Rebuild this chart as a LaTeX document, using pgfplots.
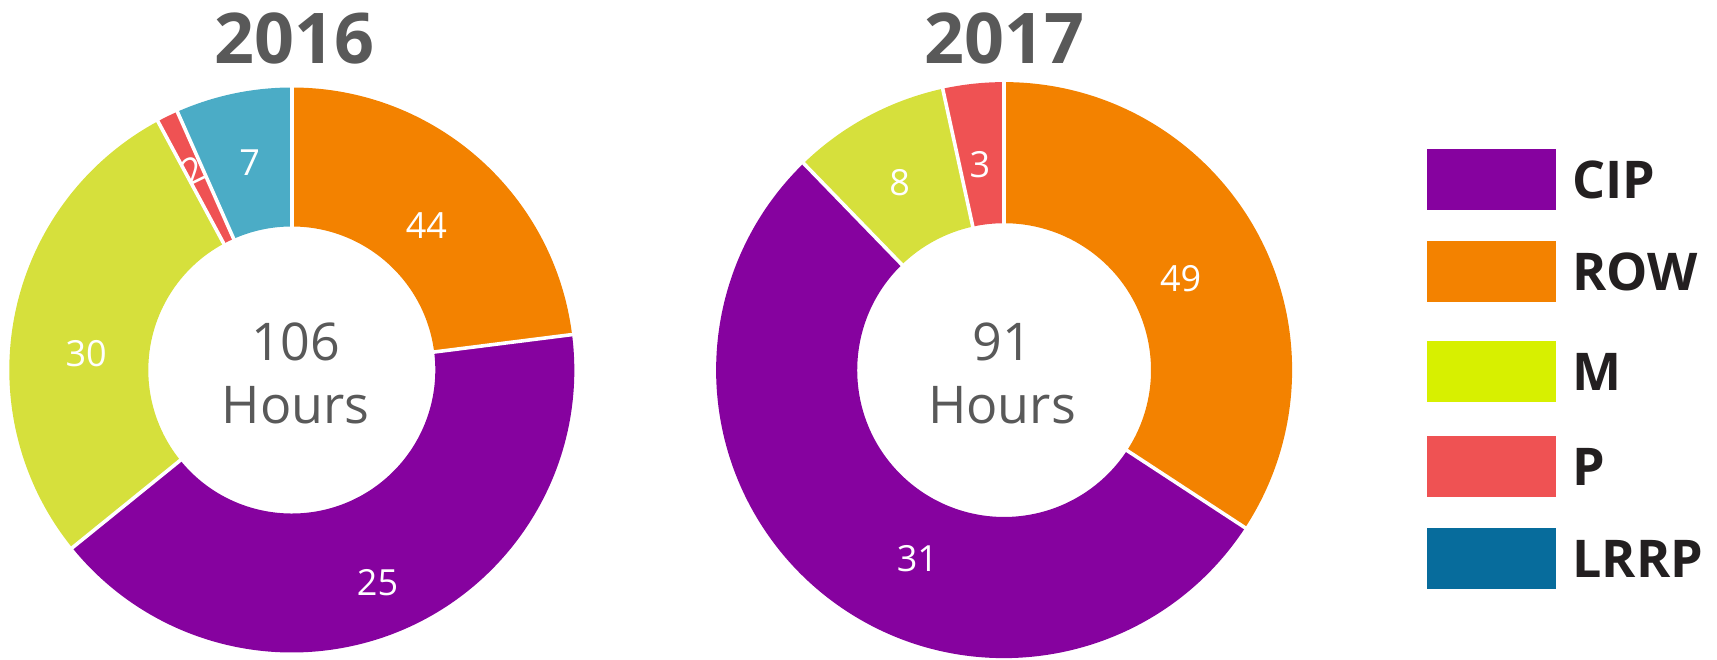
\documentclass[border=0pt]{standalone}
\usepackage{pgfplots}
\pgfplotsset{compat=1.18}
\usepackage{pgfplotstable}
\usepackage{fontspec}
\setmainfont{Open Sans}
\definecolor{cip}{HTML}{86029F}
\definecolor{row}{HTML}{F38200}
\definecolor{mslice}{HTML}{D6E03C}
\definecolor{mleg}{HTML}{D7F000}
\definecolor{pcol}{HTML}{EF5253}
\definecolor{lrrpslice}{HTML}{4BACC6}
\definecolor{lrrpleg}{HTML}{076C9C}
\definecolor{txtgray}{HTML}{595959}
\definecolor{legtxt}{HTML}{231F20}

% slice sizes as drawn (hours), label text and label placement
\pgfplotstableread{
name value color label langle lrad lrot
ROW  24.84 row       44 47.1   0.70 0
CIP  44.46 cip       25 -68    0.81 0
M    30.21 mslice    30 175.5  0.73 0
P    1.32  pcol      2  116.3  0.79 26
LRRP 7.17  lrrpslice 7  101.5  0.75 0
}\dataA
\pgfplotstableread{
name value color label langle lrad lrot
ROW  31.14 row    49 27.3   0.69 0
CIP  48.71 cip    31 -114.7 0.72 0
M    8.04  mslice 8  119.1  0.745 0
P    3.11  pcol   3  96.7   0.72 0
}\dataB

\newcommand\donut[2]{%
  \pgfplotstablegetrowsof{#1}%
  \pgfmathtruncatemacro\nrows{\pgfplotsretval-1}%
  \def\total{0}%
  \pgfplotsforeachungrouped \i in {0,...,\nrows}{%
    \pgfplotstablegetelem{\i}{value}\of{#1}%
    \pgfmathsetmacro\total{\total+\pgfplotsretval}%
  }%
  \def\angA{90}%
  \pgfplotsforeachungrouped \i in {0,...,\nrows}{%
    \pgfplotstablegetelem{\i}{value}\of{#1}\let\val\pgfplotsretval
    \pgfplotstablegetelem{\i}{color}\of{#1}\let\col\pgfplotsretval
    \pgfmathsetmacro\angB{\angA-(\val/\total)*360}%
    \edef\tmp{\noexpand\fill[\col]
      (axis cs:{cos(\angA)},{sin(\angA)})
      arc[start angle=\angA, end angle=\angB, radius=1]
      -- (axis cs:{#2*cos(\angB)},{#2*sin(\angB)})
      arc[start angle=\angB, end angle=\angA, radius=#2] -- cycle;}%
    \tmp
    \let\angA\angB
  }%
  \def\angA{90}%
  \pgfplotsforeachungrouped \i in {0,...,\nrows}{%
    \pgfplotstablegetelem{\i}{value}\of{#1}\let\val\pgfplotsretval
    \pgfmathsetmacro\angB{\angA-(\val/\total)*360}%
    \edef\tmp{\noexpand\draw[white, line width=1.8pt]
      (axis cs:{(#2-0.02)*cos(\angA)},{(#2-0.02)*sin(\angA)}) --
      (axis cs:{1.02*cos(\angA)},{1.02*sin(\angA)});}%
    \tmp
    \let\angA\angB
  }%
  \pgfplotsforeachungrouped \i in {0,...,\nrows}{%
    \pgfplotstablegetelem{\i}{label}\of{#1}\let\lab\pgfplotsretval
    \pgfplotstablegetelem{\i}{langle}\of{#1}\let\la\pgfplotsretval
    \pgfplotstablegetelem{\i}{lrad}\of{#1}\let\lr\pgfplotsretval
    \pgfplotstablegetelem{\i}{lrot}\of{#1}\let\lro\pgfplotsretval
    \edef\tmp{\noexpand\node[text=white, inner sep=0pt, font=\noexpand\fontsize{18}{20}\noexpand\selectfont, rotate=\lro]
      at (axis cs:{\lr*cos(\la)},{\lr*sin(\la)}) {\lab};}%
    \tmp
  }%
}

\begin{document}
\begin{tikzpicture}
\path[use as bounding box] (0,0) rectangle (858.5pt,329.5pt);
\clip (0,0) rectangle (858.5pt,329.5pt);

% 2016
\begin{axis}[at={(145.9pt,144.5pt)}, anchor=center, width=282.5pt, height=282.5pt,
  scale only axis, xmin=-1, xmax=1, ymin=-1, ymax=1, hide axis, clip=false]
  \donut{\dataA}{0.508}
\end{axis}

% 2017
\begin{axis}[at={(502.05pt,144.45pt)}, anchor=center, width=288pt, height=288pt,
  scale only axis, xmin=-1, xmax=1, ymin=-1, ymax=1, hide axis, clip=false]
  \donut{\dataB}{0.51}
\end{axis}

% titles
\node[anchor=base, text=txtgray, inner sep=0pt, font=\fontsize{35}{40}\selectfont\bfseries] at (147pt,297.75pt) {2016};
\node[anchor=base, text=txtgray, inner sep=0pt, font=\fontsize{35}{40}\selectfont\bfseries] at (502.3pt,297.75pt) {2017};

% centre texts
\node[anchor=base, text=txtgray, inner sep=0pt, font=\fontsize{26}{30}\selectfont] at (147.8pt,149pt) {106};
\node[anchor=base, text=txtgray, inner sep=0pt, font=\fontsize{26}{30}\selectfont] at (147.8pt,117.5pt) {Hours};
\node[anchor=base, text=txtgray, inner sep=0pt, font=\fontsize{26}{30}\selectfont] at (501pt,149pt) {91};
\node[anchor=base, text=txtgray, inner sep=0pt, font=\fontsize{26}{30}\selectfont] at (501pt,117.5pt) {Hours};

% legend
\fill[cip]     (713.5pt,224.5pt) rectangle (778pt,255pt);
\fill[row]     (713.5pt,178.5pt) rectangle (778pt,209pt);
\fill[mleg]    (713.5pt,128.5pt) rectangle (778pt,159pt);
\fill[pcol]    (713.5pt,81pt)    rectangle (778pt,111.5pt);
\fill[lrrpleg] (713.5pt,35pt)    rectangle (778pt,65.5pt);
\begin{scope}[every node/.style={anchor=base west, text=legtxt, inner sep=0pt, font=\fontsize{26}{30}\selectfont\bfseries}]
\node at (786pt,230.45pt) {CIP};
\node at (786pt,184.45pt) {ROW};
\node at (786pt,134.45pt) {M};
\node at (786pt,86.95pt)  {P};
\node at (786pt,40.95pt)  {LRRP};
\end{scope}
\end{tikzpicture}
\end{document}
